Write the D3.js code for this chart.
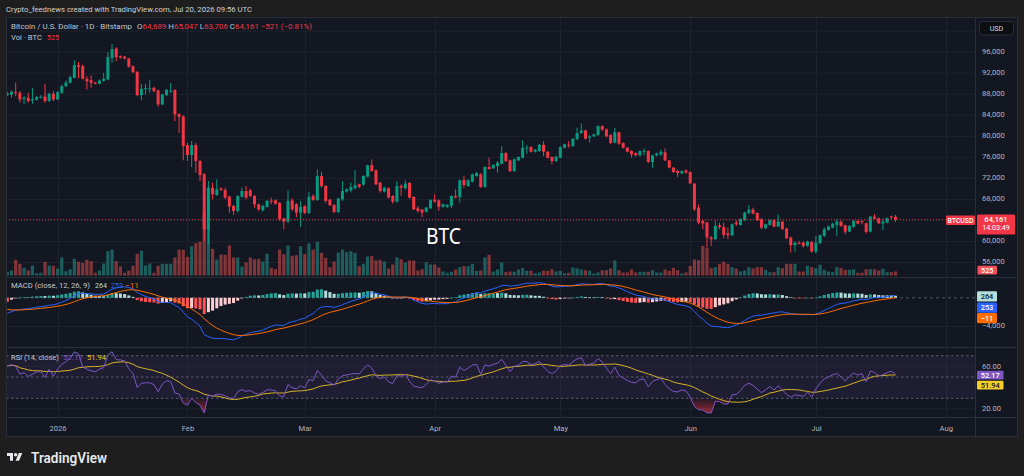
<!DOCTYPE html>
<html><head><meta charset="utf-8">
<script src="https://cdn.jsdelivr.net/npm/d3@7/dist/d3.min.js"></script>
<style>
html,body{margin:0;padding:0;background:#1e1e1e;overflow:hidden}
svg{display:block}
</style></head><body>
<svg id="chart" width="1024" height="476"></svg>
<script>
// ================= DATA =================
const startDate = "2025-12-20"; // first daily candle, one candle per day
const opens = [
87830,87960,88400,88280,87080,87330,86820,86950,87450,87580,
86700,88090,87010,88280,89540,90180,91130,93530,93340,90940,
90680,90240,89990,90560,90810,94920,96700,95240,95180,94800,
93340,92270,87830,89100,88990,89230,88720,86060,87830,88540,
88780,84230,83780,78340,76440,78340,75300,72770,62330,70240,
68850,70050,69790,68530,66760,65810,68530,69600,69730,68660,
67070,65930,66570,67760,67830,67330,64350,63780,67830,67070,
65490,66690,65430,68660,67900,72450,70550,67960,66950,65620,
68020,69480,69730,70110,70870,70810,72330,74540,73530,71190,
69480,70110,68660,67580,70550,70110,71120,68470,66310,66060,
65680,66310,67960,67830,66570,66570,66760,68590,68470,71690,
70550,71380,72450,72770,70360,74160,73910,74350,74800,76820,
75430,73400,75430,75930,77800,77960,77070,77200,78400,77070,
76060,75300,75930,77830,78400,78150,79480,80620,81130,79730,
79990,80240,81950,81320,80240,78780,80750,78720,77830,77200,
76820,76380,77150,77200,75110,76380,76570,76950,75430,74040,
73400,72960,73530,73210,71000,66440,63910,63590,60740,60430,
63080,62770,61500,61190,63590,63150,64030,65430,66060,65430,
64220,62520,63150,64030,62830,63780,62450,60740,59290,59730,
59790,59160,59920,58080,59670,61060,62200,62640,63150,63780,
63080,61880,62770,63910,63900,63460,61880,64730,64410,63400,
63590,64750,64689];
const highs = [
88470,88720,90240,88590,87640,88280,89230,87640,87830,89990,
88280,88590,88590,89860,90620,91570,94480,94160,93660,91440,
91570,90370,90810,92080,96060,97580,96950,95370,95300,94920,
93470,92390,89990,89990,90680,89400,88900,88100,88970,90110,
88970,84400,84000,78780,79100,78780,75500,73000,71500,71190,
71820,70300,70240,68700,67000,68800,70240,70550,70000,68800,
67200,67000,67900,68340,68000,67500,64500,69730,68210,67300,
67710,66900,69480,68970,73720,73280,70700,68100,67100,68300,
71500,70100,71190,73590,71000,72600,74600,75620,73700,71300,
70400,70300,68800,71500,70870,71630,71300,68600,66760,66200,
66600,68000,68970,68000,67200,67100,68800,69920,71800,72450,
71800,72900,73200,73000,74300,75930,74700,75300,78150,77000,
75600,75800,76200,79230,78340,78100,77600,78550,79100,77200,
76200,76300,78100,78600,79100,79700,81630,82450,81300,80240,
80500,82100,82070,81500,80400,81630,80900,78850,77950,77350,
76950,77350,77710,77350,76500,76900,77450,77710,75550,74150,
73720,73550,73720,73350,71100,67070,64100,63750,61060,63910,
63590,63590,62640,63400,64030,64400,65650,66950,66440,65550,
64410,63400,64200,64200,65170,63900,62600,60900,59980,60110,
59980,60150,60050,61060,61300,62640,63000,63550,64220,63950,
63200,63100,64050,64050,64030,63600,64850,65170,64550,64410,
64550,64900,65047];
const lows = [
87640,87330,87640,86380,86060,86380,86190,86820,87200,86380,
86570,86700,86890,88090,89350,90050,91000,91000,90810,88910,
89230,89860,89860,90370,90680,93970,94290,94800,94600,93090,
92010,87640,86820,87960,88280,88400,85620,85940,87710,88280,
82900,80680,75430,75300,74160,73090,71500,60000,59480,68020,
68660,69600,68020,65490,65050,65490,68340,68020,68400,66440,
65810,65700,66400,67070,67000,63910,62330,63590,65810,64670,
62770,65200,65170,67710,67710,70240,67390,66760,65400,65400,
67710,69300,69290,69900,70110,70600,72200,73280,70700,69290,
69300,68200,67200,67390,68660,69920,68200,66000,65490,64670,
65500,66200,67390,65810,66400,66400,66310,68210,67390,70240,
70400,71200,72300,70200,70200,73700,73800,73090,74670,75100,
73200,73200,75300,75800,76690,76900,76900,77050,76250,75800,
74670,75100,75800,77700,77830,78000,79230,80490,79400,78780,
79850,80100,81000,79800,78550,78660,78400,77700,76900,75930,
76200,76200,76440,74950,74040,76200,76250,75300,73900,73050,
72260,72800,72900,70900,65810,63270,62330,58840,59160,60240,
62330,60620,60430,61000,62960,63000,63900,65170,65170,63900,
62330,62350,63000,62700,62770,62200,60450,57890,58080,59480,
58840,59000,57890,57700,59500,60870,62050,62500,61060,62800,
61380,61750,62650,63250,63270,61500,61750,64220,63300,62140,
63450,64300,63706];
const closes = [
88150,88470,88210,87010,87330,86700,87080,87450,87520,86700,
88090,87010,88400,89540,90240,91250,93530,93220,90940,90490,
90180,89990,90620,90940,95050,96570,95050,94990,94800,93220,
92200,87830,89040,89160,89100,88590,86060,87960,88850,88650,
84160,83720,78150,76440,78340,75300,72640,62330,70240,68970,
69920,69790,68340,66630,65810,68660,69600,68340,68660,67070,
66120,66760,67710,67650,67200,64220,63780,67710,66120,65490,
66570,65430,68530,67900,72450,70550,67710,66880,65620,68150,
69600,69920,70360,70680,70430,72450,74480,73400,70870,69600,
70240,68340,67580,70550,70240,71000,68340,66120,65810,65490,
66440,67900,67580,66570,67070,66950,68650,68340,71630,70740,
71630,72770,73020,70360,74160,73780,74540,74990,76820,75300,
73400,75620,76060,77830,77880,77070,77450,78400,77070,75930,
75300,76120,77960,78470,78300,79540,80620,81130,79540,79990,
80370,81950,81320,79990,78720,80750,78590,77830,77070,76570,
76380,77200,77250,75110,76380,76760,77070,75430,74040,73210,
73020,73400,73090,71060,66120,63590,63400,60740,60430,62960,
62770,61250,61190,63270,63270,64220,65490,66060,65300,64030,
62640,63270,64030,62830,63780,62330,60620,59290,59790,59600,
59160,59980,58080,59790,61190,62330,62830,63400,63780,62960,
61880,62960,63910,63400,63780,61820,64730,64350,63460,63780,
64410,64689,64161];
const volumes = [
430,650,2040,1520,1000,650,1300,300,350,1780,
1300,1260,910,2340,560,820,2170,1780,1650,2040,
1860,350,650,1560,3160,3380,1860,1170,350,650,
1260,2820,3210,1300,1560,350,1260,1520,1520,1520,
2340,3380,3340,2430,3810,4200,4380,8320,6150,3470,
2080,2730,2690,3900,2340,2340,1170,1690,2340,2120,
2170,1820,2820,1000,820,3380,2770,3900,2560,2640,
3810,2770,4200,3380,4380,2950,2300,1080,1820,2990,
3380,3030,3160,2950,1210,1520,2470,2560,1950,2040,
1820,910,1430,2380,2120,1690,1950,1950,650,820,
1730,1430,1430,1040,520,350,480,780,1080,1210,
1210,1520,590,650,2340,2690,520,780,1690,430,
520,480,780,1000,610,610,300,390,610,610,
820,520,610,300,350,1040,910,780,690,610,
260,390,690,690,910,1950,690,390,390,780,
390,480,480,480,690,390,390,780,610,1000,
690,260,390,1240,2080,1990,3860,3550,950,1080,
1520,1780,1520,1080,910,520,650,1080,910,1080,
1080,740,430,430,1080,950,1520,1520,1520,520,
520,1260,1080,950,1390,740,520,430,1080,1000,
740,740,820,350,350,820,820,820,650,870,
430,430,525];

const priceTicks = [56000,60000,64000,68000,72000,76000,80000,84000,88000,92000,96000,100000];
const priceLabelTicks = [56000,60000,68000,72000,76000,80000,84000,88000,92000,96000]; // 64,000 hidden by price label
const monthTicks = ["2026-01-01","2026-02-01","2026-03-01","2026-04-01","2026-05-01","2026-06-01","2026-07-01","2026-08-01"];
const monthLabels = ["2026","Feb","Mar","Apr","May","Jun","Jul","Aug"];
const macdTicks = [-4000];
const rsiTicks = [60, 20];
const rsiBands = [70, 50, 30];
const legendKeys = ["O","H","L","C"];
const legendOHLC = ["64,689","65,047","63,706","64,161"];
const legendChange = "\u2212521 (\u22120.81%)";
const lastVolume = "525";
const macdLegend = ["264","253","\u221211"];   // histogram, MACD, signal
const rsiLegend = ["52.17","51.94"];         // RSI, RSI-based MA
const countdown = "14:03:49";

// ================= LAYOUT =================
const FONT = "Roboto, 'Liberation Sans', Arial, sans-serif";
const plotL = 6, plotR = 975, frameR = 1018;
const mainTop = 17, mainBot = 277.5, macdBot = 347.5, rsiBot = 417.5, timeBot = 437;
const UP = "#089981", DOWN = "#f23645";

const svg = d3.select("#chart");
const parse = d3.utcParse("%Y-%m-%d");
const t0 = parse(startDate);
const data = closes.map((c, i) => ({
  date: d3.utcDay.offset(t0, i), o: opens[i], h: highs[i], l: lows[i], c, v: volumes[i], up: c >= opens[i]
}));

// scales
const x = d3.scaleUtc().domain([data[0].date, data[data.length - 1].date]).range([7.3, 895.5]);
const y = d3.scaleLinear().domain([56000, 96000]).range([262.5, 52.2]);
const yVol = d3.scaleLinear().domain([0, 10000]).range([275.5, 198.6]);
const yM = d3.scaleLinear().domain([-4000, 0]).range([326.5, 297.8]);
const yR = d3.scaleLinear().domain([30, 70]).range([398.3, 355.7]);

// ---- indicators derived from the closes (MACD 12/26/9, RSI 14 + SMA 14) ----
function ema(arr, n) {
  const k = 2 / (n + 1); let e = d3.mean(arr.slice(0, n));
  return arr.map((v, i) => { if (i > 0) e = v * k + e * (1 - k); return e; });
}
const e12 = ema(closes, 12), e26 = ema(closes, 26);
const macd = closes.map((_, i) => e12[i] - e26[i]);
const signal = ema(macd, 9);
const hist = macd.map((m, i) => m - signal[i]);
const chg = closes.map((c, i) => i ? c - closes[i - 1] : 0);
let ag = d3.mean(chg.slice(1, 15).map(d => Math.max(d, 0)));
let al = d3.mean(chg.slice(1, 15).map(d => Math.max(-d, 0)));
const rsi = closes.map((c, i) => {
  if (i > 0) { ag = (ag * 13 + Math.max(chg[i], 0)) / 14; al = (al * 13 + Math.max(-chg[i], 0)) / 14; }
  return 100 - 100 / (1 + ag / al);
});
const rsiMa = rsi.map((v, i) => d3.mean(rsi.slice(Math.max(0, i - 13), i + 1)));
data.forEach((d, i) => { d.macd = macd[i]; d.sig = signal[i]; d.hist = hist[i]; d.rsi = rsi[i]; d.rsiMa = rsiMa[i]; });

// ================= BACKGROUND / FRAME =================
svg.append("rect").attr("width", 1024).attr("height", 476).attr("fill", "#1e1e1e");
svg.append("rect").attr("x", plotL).attr("y", mainTop).attr("width", frameR - plotL).attr("height", timeBot - mainTop)
  .attr("fill", "#131722");

const defs = svg.append("defs");
defs.append("clipPath").attr("id", "clipMain").append("rect")
  .attr("x", plotL).attr("y", mainTop).attr("width", plotR - plotL).attr("height", mainBot - mainTop);
const gOS = defs.append("linearGradient").attr("id", "gOS").attr("gradientUnits", "userSpaceOnUse")
  .attr("x1", 0).attr("x2", 0).attr("y1", yR(30)).attr("y2", yR(12));
gOS.append("stop").attr("offset", 0).attr("stop-color", "#f23645").attr("stop-opacity", 0.05);
gOS.append("stop").attr("offset", 1).attr("stop-color", "#f23645").attr("stop-opacity", 0.75);
const gOB = defs.append("linearGradient").attr("id", "gOB").attr("gradientUnits", "userSpaceOnUse")
  .attr("x1", 0).attr("x2", 0).attr("y1", yR(70)).attr("y2", yR(88));
gOB.append("stop").attr("offset", 0).attr("stop-color", "#089981").attr("stop-opacity", 0.05);
gOB.append("stop").attr("offset", 1).attr("stop-color", "#089981").attr("stop-opacity", 0.75);

// ================= GRID =================
const grid = svg.append("g").attr("stroke", "#1e222d").attr("stroke-width", 1);
const monthDates = monthTicks.map(parse);
monthDates.forEach(d => {
  const xx = Math.round(x(d)) + 0.5;
  grid.append("line").attr("x1", xx).attr("x2", xx).attr("y1", mainTop).attr("y2", rsiBot);
});
priceTicks.forEach(p => {
  const yy = y(p);
  if (yy > mainTop && yy < mainBot)
    grid.append("line").attr("x1", plotL).attr("x2", plotR).attr("y1", yy).attr("y2", yy);
});
macdTicks.forEach(v => grid.append("line").attr("x1", plotL).attr("x2", plotR).attr("y1", yM(v)).attr("y2", yM(v)));
rsiTicks.forEach(v => grid.append("line").attr("x1", plotL).attr("x2", plotR).attr("y1", yR(v)).attr("y2", yR(v)));

// ================= MAIN PANE =================
const main = svg.append("g").attr("clip-path", "url(#clipMain)");
// volume
main.append("g").selectAll("rect").data(data).join("rect")
  .attr("x", d => x(d.date) - 1.6).attr("width", 3.2)
  .attr("y", d => yVol(d.v)).attr("height", d => yVol(0) - yVol(d.v))
  .attr("fill", d => d.up ? "rgba(38,166,154,0.5)" : "rgba(239,83,80,0.5)");
// wicks
main.append("g").selectAll("line").data(data).join("line")
  .attr("x1", d => x(d.date)).attr("x2", d => x(d.date))
  .attr("y1", d => y(d.h)).attr("y2", d => y(d.l))
  .attr("stroke", d => d.up ? UP : DOWN).attr("stroke-width", 1);
// bodies
main.append("g").selectAll("rect").data(data).join("rect")
  .attr("x", d => x(d.date) - 1.5).attr("width", 3)
  .attr("y", d => y(Math.max(d.o, d.c)))
  .attr("height", d => Math.max(1, Math.abs(y(d.o) - y(d.c))))
  .attr("fill", d => d.up ? UP : DOWN);
// last price dotted line
const last = data[data.length - 1];
svg.append("line").attr("x1", plotL).attr("x2", plotR).attr("y1", y(last.c)).attr("y2", y(last.c))
  .attr("stroke", DOWN).attr("stroke-width", 1).attr("stroke-dasharray", "1,2").attr("opacity", 0.9);

// ================= MACD PANE =================
const colHist = (d, i) => {
  const prev = i > 0 ? data[i - 1].hist : d.hist;
  if (d.hist >= 0) return prev < d.hist ? "#26a69a" : "#b2dfdb";
  return prev < d.hist ? "#ffcdd2" : "#ff5252";
};
svg.append("line").attr("x1", plotL).attr("x2", plotR).attr("y1", yM(0)).attr("y2", yM(0))
  .attr("stroke", "#787b86").attr("stroke-opacity", 0.6).attr("stroke-dasharray", "3,3");
svg.append("g").selectAll("rect").data(data).join("rect")
  .attr("x", d => x(d.date) - 1.5).attr("width", 3)
  .attr("y", d => Math.min(yM(0), yM(d.hist)))
  .attr("height", d => Math.max(0.6, Math.abs(yM(d.hist) - yM(0))))
  .attr("fill", colHist);
svg.append("path").datum(data).attr("fill", "none").attr("stroke", "#2962ff").attr("stroke-width", 1)
  .attr("d", d3.line().x(d => x(d.date)).y(d => yM(d.macd)));
svg.append("path").datum(data).attr("fill", "none").attr("stroke", "#ff6d00").attr("stroke-width", 1)
  .attr("d", d3.line().x(d => x(d.date)).y(d => yM(d.sig)));

// ================= RSI PANE =================
svg.append("rect").attr("x", plotL).attr("width", plotR - plotL)
  .attr("y", yR(70)).attr("height", yR(30) - yR(70)).attr("fill", "rgba(126,87,194,0.1)");
rsiBands.forEach(v => svg.append("line").attr("x1", plotL).attr("x2", plotR).attr("y1", yR(v)).attr("y2", yR(v))
  .attr("stroke", "#787b86").attr("stroke-opacity", 0.7).attr("stroke-dasharray", "2.5,2.5"));
svg.append("path").datum(data).attr("fill", "url(#gOS)")
  .attr("d", d3.area().x(d => x(d.date)).y0(yR(30)).y1(d => yR(Math.min(d.rsi, 30))));
svg.append("path").datum(data).attr("fill", "url(#gOB)")
  .attr("d", d3.area().x(d => x(d.date)).y0(yR(70)).y1(d => yR(Math.max(d.rsi, 70))));
svg.append("path").datum(data).attr("fill", "none").attr("stroke", "#d8b426").attr("stroke-width", 1)
  .attr("d", d3.line().x(d => x(d.date)).y(d => yR(d.rsiMa)));
svg.append("path").datum(data).attr("fill", "none").attr("stroke", "#7e57c2").attr("stroke-width", 1)
  .attr("d", d3.line().x(d => x(d.date)).y(d => yR(d.rsi)));

// ================= SEPARATORS =================
const sep = svg.append("g").attr("stroke", "#2a2e39").attr("stroke-width", 1);
[mainBot, macdBot, rsiBot].forEach(yy => sep.append("line").attr("x1", plotL).attr("x2", frameR).attr("y1", yy).attr("y2", yy));
sep.append("line").attr("x1", plotR + 0.5).attr("x2", plotR + 0.5).attr("y1", mainTop).attr("y2", timeBot);
svg.append("rect").attr("x", plotL + 0.5).attr("y", mainTop + 0.5).attr("width", frameR - plotL - 1).attr("height", timeBot - mainTop - 1)
  .attr("fill", "none").attr("stroke", "#2a2e39");

// ================= AXES =================
function styleAxis(sel, size) {
  sel.attr("font-family", FONT).attr("font-size", size);
  sel.select(".domain").remove();
  sel.selectAll(".tick line").remove();
  sel.selectAll("text").attr("fill", "#b2b5be");
}
svg.append("g").attr("transform", `translate(${plotR + 1},-1.2)`)
  .call(d3.axisRight(y).tickValues(priceLabelTicks).tickFormat(d3.format(",")).tickSize(0).tickPadding(6))
  .call(styleAxis, 7.6);
svg.append("g").attr("transform", `translate(${plotR + 1},-1)`)
  .call(d3.axisRight(yM).tickValues(macdTicks).tickFormat(d => d3.format(",")(d).replace("-", "\u2212")).tickSize(0).tickPadding(6))
  .call(styleAxis, 7.6);
svg.append("g").attr("transform", `translate(${plotR + 1},-0.6)`)
  .call(d3.axisRight(yR).tickValues(rsiTicks).tickFormat(d3.format(".2f")).tickSize(0).tickPadding(6))
  .call(styleAxis, 7.6);
svg.append("g").attr("transform", `translate(0,${rsiBot})`)
  .call(d3.axisBottom(x).tickValues(monthDates).tickFormat((d, i) => monthLabels[i]).tickSize(0).tickPadding(8.5))
  .call(styleAxis, 7.6);

// ================= TEXT HELPERS =================
function txt(xx, yy, s, fill, size, opts = {}) {
  const t = svg.append("text").attr("x", xx).attr("y", yy).text(s)
    .attr("fill", fill).attr("font-size", size).attr("font-family", opts.family || FONT)
    .attr("text-anchor", opts.anchor || "start").attr("font-weight", opts.weight || 400);
  if (opts.tl) t.attr("textLength", opts.tl).attr("lengthAdjust", "spacingAndGlyphs");
  return t;
}
function box(xx, yy, w, h, fill, s, tcol, size, weight) {
  svg.append("rect").attr("x", xx).attr("y", yy).attr("width", w).attr("height", h).attr("rx", 1.2).attr("fill", fill);
  txt(xx + w / 2, yy + h / 2 + size * 0.36, s, tcol, size, { anchor: "middle", weight: weight || 500 });
}

// ---- header ----
txt(6, 11.8, "Crypto_feednews created with TradingView.com, Jul 20, 2026 09:56 UTC", "#cfd1d6", 7.6, { tl: 246 });
const LG = "#c3c6ce";
txt(11, 28.6, "Bitcoin / U.S. Dollar \u00b7 1D \u00b7 Bitstamp", LG, 7.6, { tl: 121 });
// OHLC legend as one line of tspans
const ohlc = svg.append("text").attr("x", 137).attr("y", 28.6).attr("font-size", 7.6).attr("font-family", FONT)
  .attr("textLength", 175).attr("lengthAdjust", "spacingAndGlyphs");
legendKeys.forEach((k, i) => {
  ohlc.append("tspan").attr("fill", LG).text((i ? " " : "") + k);
  ohlc.append("tspan").attr("fill", DOWN).text(legendOHLC[i]);
});
ohlc.append("tspan").attr("fill", DOWN).text(" " + legendChange);
txt(11, 39.6, "Vol \u00b7 BTC", LG, 7.6, { tl: 31 });
txt(47, 39.6, lastVolume, DOWN, 7.6, { tl: 12 });

// big label
txt(426, 243.5, "BTC", "#ffffff", 21, { family: "'Noto Sans', 'Open Sans', sans-serif", tl: 35 });

// MACD legend
txt(11, 288.4, "MACD (close, 12, 26, 9)", LG, 7.6, { tl: 79 });
txt(95, 288.4, macdLegend[0], "#b2dfdb", 7.6, { tl: 12 });
txt(111, 288.4, macdLegend[1], "#2962ff", 7.6, { tl: 12 });
txt(125, 288.4, macdLegend[2], "#ff6d00", 7.6, { tl: 14 });
// RSI legend
txt(11, 360.4, "RSI (14, close)", LG, 7.6, { tl: 48 });
txt(63, 360.4, rsiLegend[0], "#7e57c2", 7.6, { tl: 20 });
txt(87, 360.4, rsiLegend[1], "#f5cd2b", 7.6, { tl: 19 });

// ---- right-side labels ----
svg.append("rect").attr("x", 979.5).attr("y", 21.5).attr("width", 34).attr("height", 13.5).attr("rx", 3)
  .attr("fill", "#0d0f14").attr("stroke", "#2a2e39");
txt(996.5, 30.7, "USD", "#d1d4dc", 7.2, { anchor: "middle" });
const yp = y(last.c);
svg.append("rect").attr("x", 946).attr("y", yp - 4).attr("width", 29).attr("height", 9.5).attr("rx", 1).attr("fill", DOWN);
txt(960.5, yp + 3.2, "BTCUSD", "#ffffff", 6.9, { anchor: "middle", weight: 500 });
svg.append("rect").attr("x", 977).attr("y", yp - 5).attr("width", 38).attr("height", 20).attr("rx", 1.2).attr("fill", DOWN);
txt(996, yp + 2.6, d3.format(",")(last.c), "#ffffff", 7.6, { anchor: "middle", weight: 500 });
txt(996, yp + 10.4, countdown, "#ffffff", 7.2, { anchor: "middle" });
box(977.5, 265.8, 19.5, 8.6, "#f0515c", lastVolume, "#ffffff", 7.2);
box(977, 291.2, 20, 10.4, "#b2dfdb", macdLegend[0], "#131722", 7.4);
box(977, 302.6, 20, 10.2, "#2962ff", macdLegend[1], "#ffffff", 7.4);
box(977, 313, 20, 10.2, "#ff6d00", macdLegend[2], "#ffffff", 7.4);
box(977, 370.8, 26.5, 8.8, "#7e57c2", rsiLegend[0], "#ffffff", 7.4);
box(977, 380.7, 26.5, 8.8, "#f5cd2b", rsiLegend[1], "#131722", 7.4);

// ================= FOOTER LOGO =================
const logo = svg.append("g").attr("transform", "translate(7,451.3) scale(0.43)").attr("fill", "#e6e8ec");
logo.append("path").attr("d", "M14 22H7V11H0V4h14v18z");
logo.append("circle").attr("cx", 20).attr("cy", 8).attr("r", 4);
logo.append("path").attr("d", "M28 22h-8l7.5-18h8L28 22z");
txt(31, 463, "TradingView", "#e6e8ec", 15, { weight: 600, tl: 76 });
</script>
</body></html>
